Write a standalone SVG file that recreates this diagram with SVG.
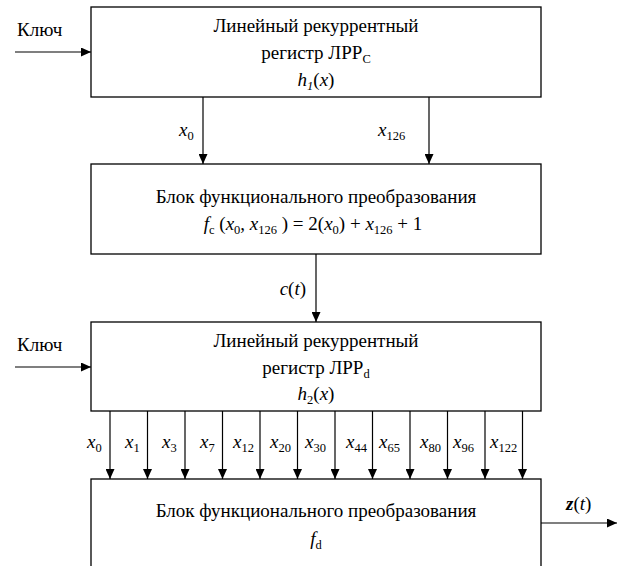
<svg xmlns="http://www.w3.org/2000/svg" width="617" height="566" viewBox="0 0 617 566">
<defs>
<marker id="ah" viewBox="0 0 10 9" refX="10" refY="4.5" markerWidth="10" markerHeight="9" orient="auto" markerUnits="userSpaceOnUse"><path d="M0,0 L10,4.5 L0,9 z" fill="#000"/></marker>
<style>
.box{fill:#fff;stroke:#000;stroke-width:1.3}
.t{font-family:"Liberation Serif","Times New Roman",serif;font-size:19px;fill:#000}
.c{text-anchor:middle}
.i{font-style:italic}
.s{font-size:12.5px}
.lbl{font-family:"Liberation Serif","Times New Roman",serif;font-size:19px;font-style:italic;fill:#000}
.conn line,.conn path{stroke:#000;stroke-width:1.2;fill:none;marker-end:url(#ah)}
</style>
</defs>
<rect width="617" height="566" fill="#fff"/>

<g id="lfsr-c">
<rect class="box" x="91" y="7" width="450" height="90"/>
<text class="t c" x="316" y="32">Линейный рекуррентный</text>
<text class="t c" x="316" y="59">регистр ЛРР<tspan class="s" dy="4">C</tspan></text>
<text class="t c" x="316" y="86"><tspan class="i">h</tspan><tspan class="s i" dy="4">1</tspan><tspan dy="-4">(</tspan><tspan class="i">x</tspan>)</text>
</g>

<g id="func-c">
<rect class="box" x="91" y="164" width="450" height="90"/>
<text class="t c" x="316" y="203">Блок функционального преобразования</text>
<text class="t c" x="313" y="230"><tspan class="i">f</tspan><tspan class="s" dy="4">c</tspan><tspan dy="-4"> (</tspan><tspan class="i">x</tspan><tspan class="s" dy="4">0</tspan><tspan dy="-4">, </tspan><tspan class="i">x</tspan><tspan class="s" dy="4">126</tspan><tspan dy="-4"> ) = 2(</tspan><tspan class="i">x</tspan><tspan class="s" dy="4">0</tspan><tspan dy="-4">) + </tspan><tspan class="i">x</tspan><tspan class="s" dy="4">126</tspan><tspan dy="-4"> + 1</tspan></text>
</g>

<g id="lfsr-d">
<rect class="box" x="91" y="322" width="450" height="89"/>
<text class="t c" x="316" y="347">Линейный рекуррентный</text>
<text class="t c" x="316" y="374">регистр ЛРР<tspan class="s" dy="4">d</tspan></text>
<text class="t c" x="316" y="400"><tspan class="i">h</tspan><tspan class="s" dy="4">2</tspan><tspan dy="-4">(</tspan><tspan class="i">x</tspan>)</text>
</g>

<g id="func-d">
<rect class="box" x="91" y="479" width="450" height="100"/>
<text class="t c" x="316" y="517">Блок функционального преобразования</text>
<text class="t c" x="316" y="545"><tspan class="i">f</tspan><tspan class="s" dy="4">d</tspan></text>
</g>

<g id="connectors" class="conn">
<line x1="15" y1="52" x2="91" y2="52"/>
<line x1="15" y1="367" x2="91" y2="367"/>
<line x1="203" y1="97" x2="203" y2="164"/>
<line x1="429" y1="97" x2="429" y2="164"/>
<line x1="316" y1="254" x2="316" y2="322"/>
<line x1="110" y1="411" x2="110" y2="479"/>
<line x1="147.5" y1="411" x2="147.5" y2="479"/>
<line x1="185" y1="411" x2="185" y2="479"/>
<line x1="222.5" y1="411" x2="222.5" y2="479"/>
<line x1="260" y1="411" x2="260" y2="479"/>
<line x1="297.5" y1="411" x2="297.5" y2="479"/>
<line x1="335" y1="411" x2="335" y2="479"/>
<line x1="372.5" y1="411" x2="372.5" y2="479"/>
<line x1="410" y1="411" x2="410" y2="479"/>
<line x1="447.5" y1="411" x2="447.5" y2="479"/>
<line x1="485" y1="411" x2="485" y2="479"/>
<line x1="522.5" y1="411" x2="522.5" y2="479"/>
<line x1="541" y1="523" x2="617" y2="523"/>
</g>

<g id="labels">
<text class="t" x="17" y="36">Ключ</text>
<text class="t" x="17" y="351">Ключ</text>
<text class="lbl" x="179" y="136">x<tspan class="s" font-style="normal" dy="4">0</tspan></text>
<text class="lbl" x="378" y="136">x<tspan class="s" font-style="normal" dy="4">126</tspan></text>
<text class="t" x="306" y="295" text-anchor="end"><tspan class="i">c</tspan>(<tspan class="i">t</tspan>)</text>
<text class="t" x="566" y="510"><tspan class="i" font-weight="bold">z</tspan>(<tspan class="i">t</tspan>)</text>
<text class="lbl" x="87" y="448">x<tspan class="s" font-style="normal" dy="4">0</tspan></text>
<text class="lbl" x="125" y="448">x<tspan class="s" font-style="normal" dy="4">1</tspan></text>
<text class="lbl" x="162" y="448">x<tspan class="s" font-style="normal" dy="4">3</tspan></text>
<text class="lbl" x="200" y="448">x<tspan class="s" font-style="normal" dy="4">7</tspan></text>
<text class="lbl" x="233" y="448">x<tspan class="s" font-style="normal" dy="4">12</tspan></text>
<text class="lbl" x="270" y="448">x<tspan class="s" font-style="normal" dy="4">20</tspan></text>
<text class="lbl" x="305" y="448">x<tspan class="s" font-style="normal" dy="4">30</tspan></text>
<text class="lbl" x="346" y="448">x<tspan class="s" font-style="normal" dy="4">44</tspan></text>
<text class="lbl" x="379" y="448">x<tspan class="s" font-style="normal" dy="4">65</tspan></text>
<text class="lbl" x="420" y="448">x<tspan class="s" font-style="normal" dy="4">80</tspan></text>
<text class="lbl" x="453" y="448">x<tspan class="s" font-style="normal" dy="4">96</tspan></text>
<text class="lbl" x="490" y="448">x<tspan class="s" font-style="normal" dy="4">122</tspan></text>
</g>
</svg>
